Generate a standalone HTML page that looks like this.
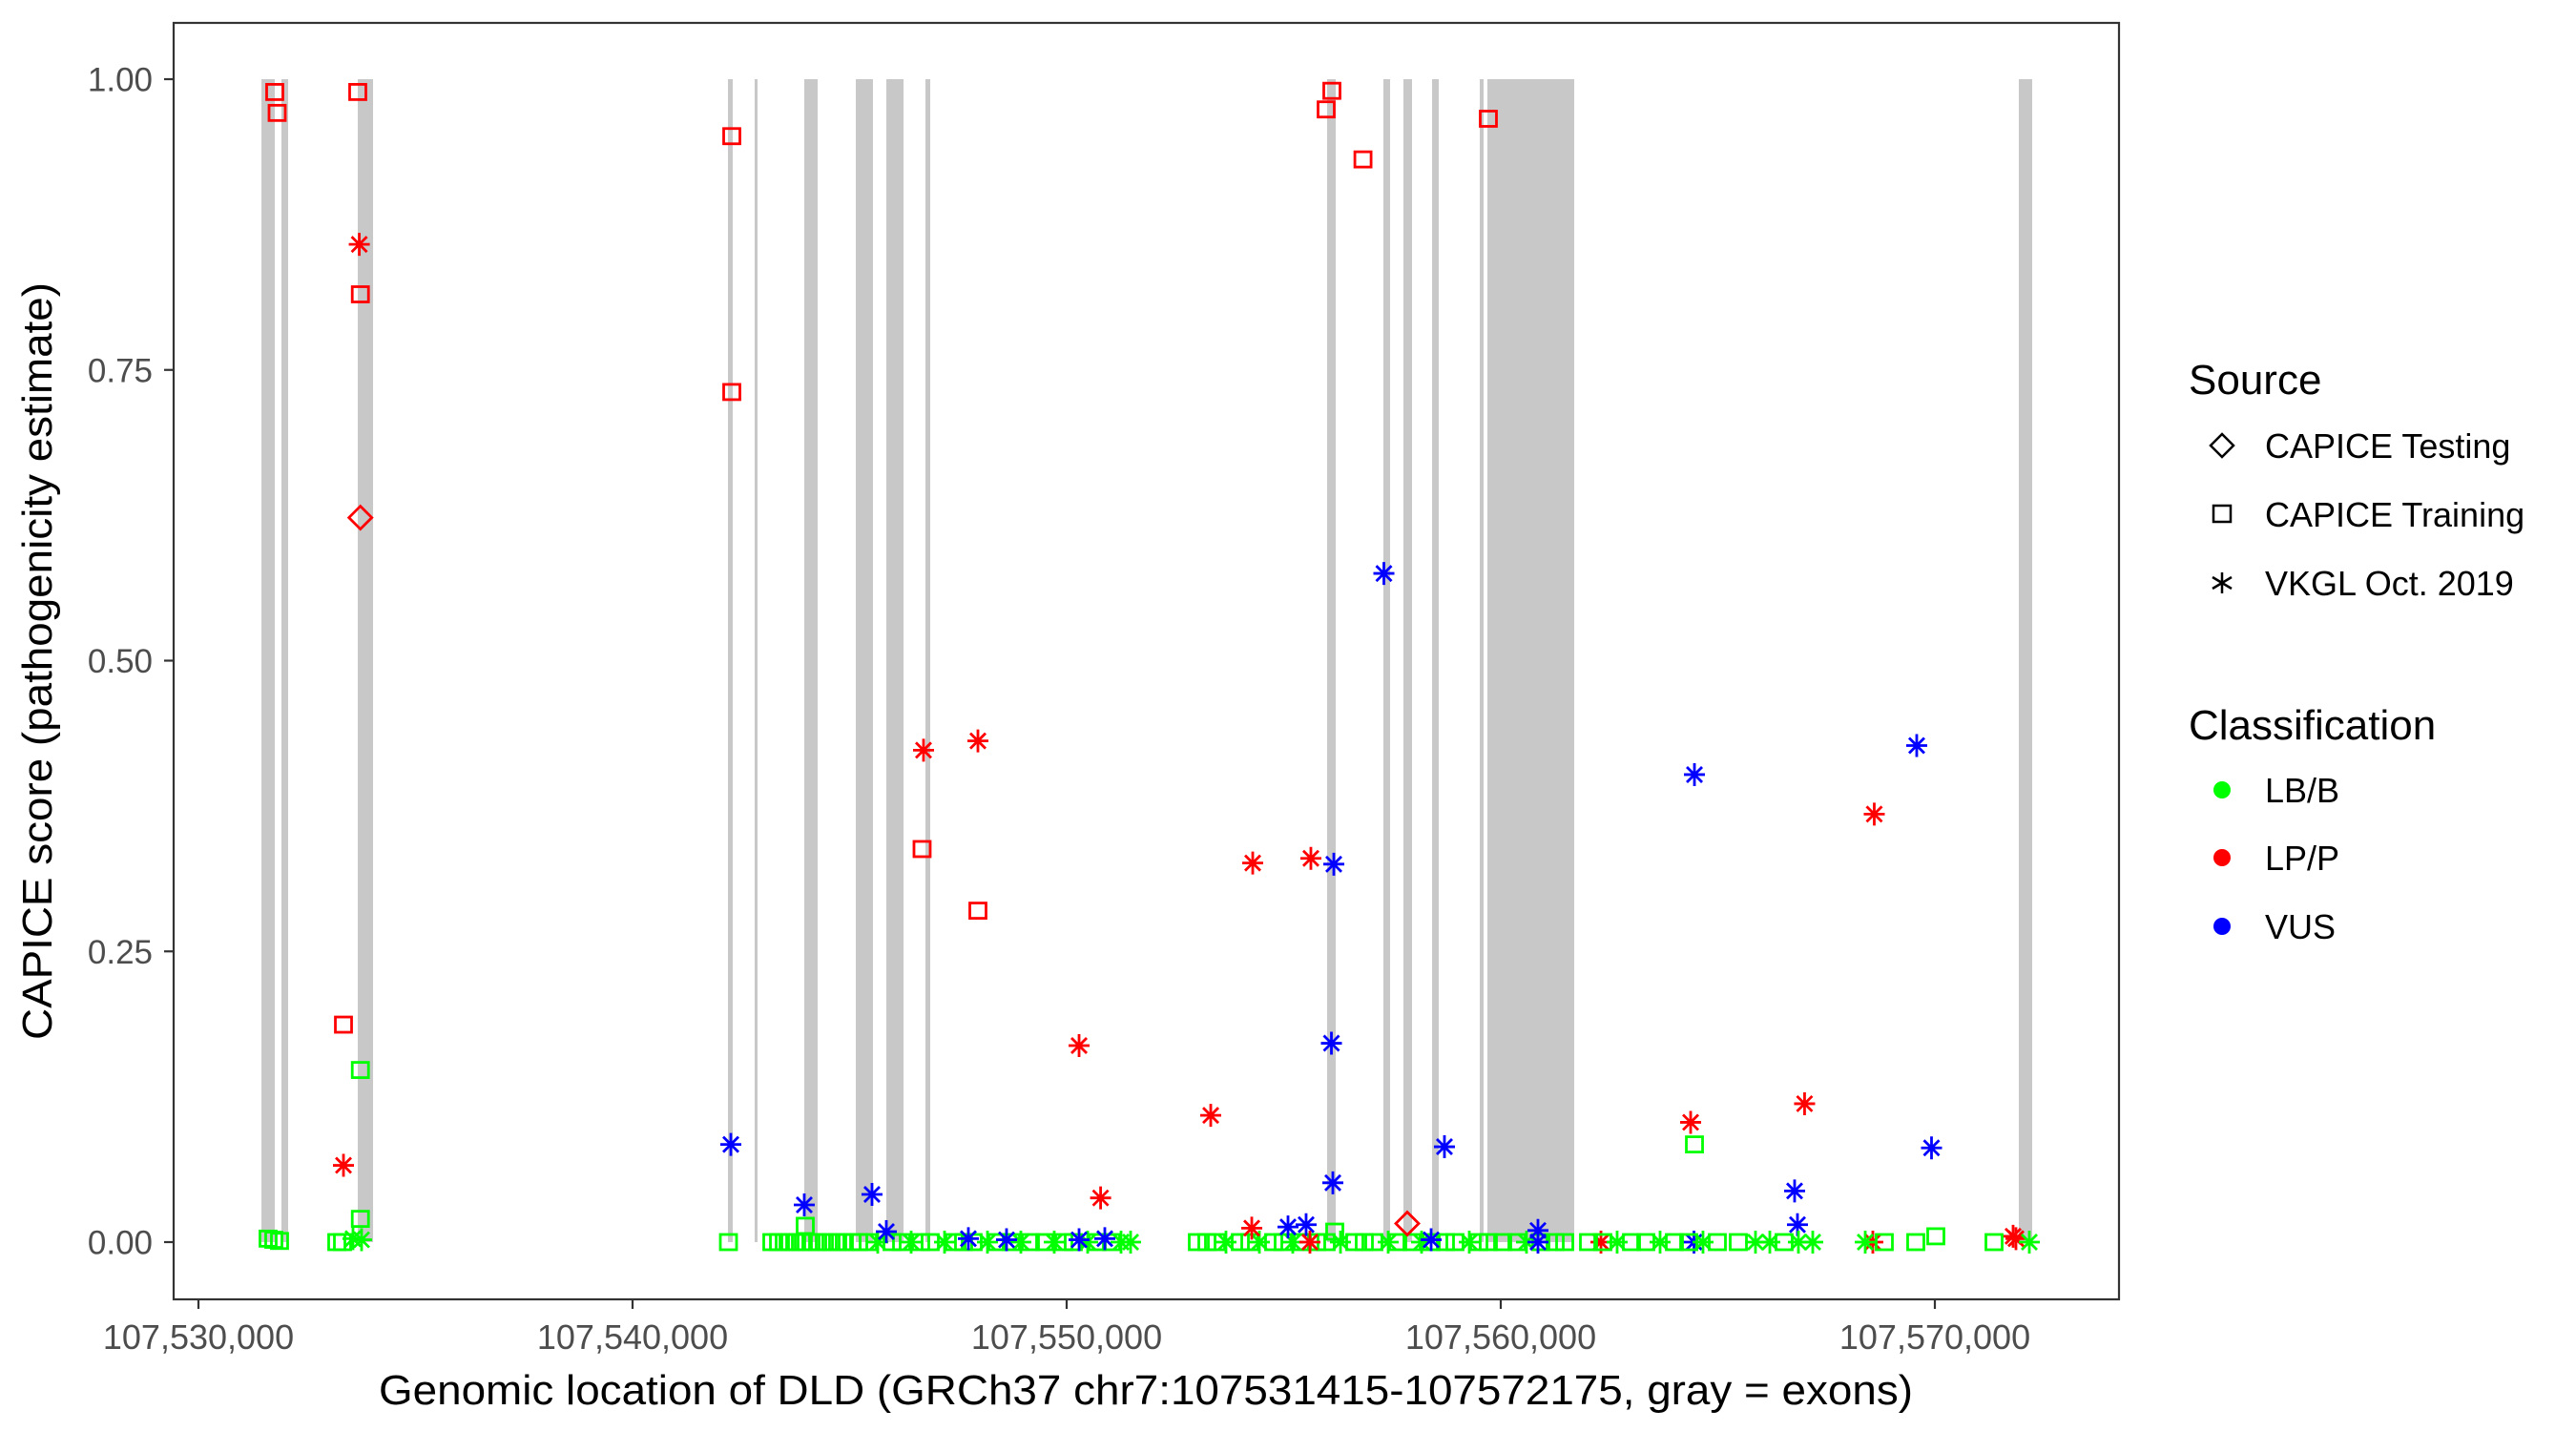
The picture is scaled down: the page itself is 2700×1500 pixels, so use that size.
<!DOCTYPE html>
<html><head><meta charset="utf-8"><style>
html,body{margin:0;padding:0;background:#fff;}
svg{display:block;}
text{font-family:"Liberation Sans",Arial,sans-serif;}
</style></head><body>
<svg id="chart" width="2700" height="1500" viewBox="0 0 2700 1500" xmlns="http://www.w3.org/2000/svg">
<rect x="0" y="0" width="2700" height="1500" fill="#fff"/>
<g id="exons"></g>
<g id="points"></g>
<rect x="182" y="24" width="2039" height="1338" fill="none" stroke="#333" stroke-width="2.2"/>
<g id="yaxis"></g>
<g id="xaxis"></g>
<text x="1201" y="1472" font-size="44" text-anchor="middle" textLength="1608" lengthAdjust="spacingAndGlyphs">Genomic location of DLD (GRCh37 chr7:107531415-107572175, gray = exons)</text>
<text transform="translate(54,693) rotate(-90)" font-size="44" text-anchor="middle" textLength="794" lengthAdjust="spacingAndGlyphs">CAPICE score (pathogenicity estimate)</text>
<g>
<text x="2294" y="413" font-size="44">Source</text>
<g>
<path d="M2329 455 L2341 467 L2329 479 L2317 467 Z" fill="none" stroke="#000" stroke-width="2.5"/>
<text x="2374" y="480" font-size="36">CAPICE Testing</text></g>
<g>
<rect x="2320" y="530" width="18" height="17" fill="none" stroke="#000" stroke-width="2.5"/>
<text x="2374" y="552" font-size="36">CAPICE Training</text></g>
<g>
<path d="M2329 600 V622 M2319 605 L2339 617 M2319 617 L2339 605" stroke="#000" stroke-width="2.5"/>
<text x="2374" y="624" font-size="36">VKGL Oct. 2019</text></g>
<text x="2294" y="775" font-size="44">Classification</text>
<g><circle cx="2329" cy="828" r="9" fill="#00ff00"/><text x="2374" y="841" font-size="36">LB/B</text></g>
<g><circle cx="2329" cy="899" r="9" fill="#ff0000"/><text x="2374" y="912" font-size="36">LP/P</text></g>
<g><circle cx="2329" cy="971" r="9" fill="#0000ff"/><text x="2374" y="984" font-size="36">VUS</text></g>
</g>
</svg>
<script>
// Axis domain/tick data
const xTicks = [107530000, 107540000, 107550000, 107560000, 107570000];
const xTickLabels = ["107,530,000", "107,540,000", "107,550,000", "107,560,000", "107,570,000"];
const yTicks = [0, 0.25, 0.5, 0.75, 1];
const yTickLabels = ["0.00", "0.25", "0.50", "0.75", "1.00"];
// Exons (genomic start/end)
const exonStart = [107531451,107531912,107533670,107542198,107542813,107543956,107545143,107545846,107546747,107556000,107557297,107557758,107558418,107559516,107559692,107571934];
const exonEnd   = [107531758,107532066,107534022,107542308,107542879,107544264,107545538,107546242,107546857,107556198,107557451,107557956,107558571,107559604,107561692,107572242];
// Variants: offset from 107,530,000, score, source (d=testing, s=training, a=VKGL), class (B, P, V)
const varOffset = [
1604,1736,1868,1758,1813,3187,3319,3560,3758,3670,3730,3705,3730,3730,3730,3341,3341,
12209,12286,12286,12264,13956,13978,
13209,13363,13495,13626,13780,13934,14110,14264,14418,14571,14725,14879,15055,15209,
15429,15648,15978,16198,16418,16637,16857,17187,17407,17626,17846,18176,18395,18725,18945,19165,19494,19714,19934,20154,20484,20703,21033,21253,21473,
15846,17736,18615,20286,20879,15516,16703,16670,17956,17956,20286,20782,
23011,23231,23451,23670,24000,24220,24440,24769,24989,25209,25429,25758,25978,26308,26637,26857,27077,27407,27626,27956,28176,28396,28725,28945,29275,29495,29714,30044,30374,30593,30923,31253,31473,
23319,24286,25626,26154,26099,26132,26110,25978,26826,27308,27846,28703,24264,25099,25516,25604,26176,28396,30857,30857,
29714,34462,34462,34374,38604,39582,36999,39923,36769,36835,34451,32308,38571,41802,41868,40022,42176,
32022,32352,32681,33011,33341,33670,34000,34330,34659,34989,35473,35868,36198,36527,36857,37187,38396,38835,39560,41363];
const varScore = [
0.003,0.002,0.001,0.989,0.971,0,0,0.003,0.002,0.989,0.815,0.858,0.623,0.148,0.02,0.187,0.066,
0,0.951,0.731,0.084,0.032,0.014,
0,0,0,0,0,0,0,0,0,0,0,0,0,0,
0,0,0,0,0,0,0,0,0,0,0,0,0,0,0,0,0,0,0,0,0,0,0,0,0,
0.009,0.003,0.002,0.002,0.003,0.041,0.423,0.338,0.431,0.285,0.169,0.038,
0,0,0,0,0,0,0,0,0,0,0,0,0,0,0,0,0,0,0,0,0,0,0,0,0,0,0,0,0,0,0,0,0,
0.109,0.326,0.33,0.325,0.171,0.051,0.99,0.974,0.931,0.575,0.016,0.082,0.012,0.013,0.015,0,0.009,0.002,0.01,0,
0.966,0.402,0.084,0.103,0.368,0.427,0.119,0.081,0.044,0.015,0,0,0,0.005,0.003,0.005,0,
0,0,0,0,0,0,0,0,0,0,0,0,0,0,0,0,0,0,0,0];
const varSource = [
"s","s","s","s","s","s","s","a","a","s","s","a","d","s","s","s","a",
"s","s","s","a","a","s",
"s","s","s","s","s","s","s","s","s","s","s","s","s","s",
"s","a","s","s","a","s","s","a","s","s","s","a","s","s","a","s","s","a","s","s","a","s","s","a","a",
"a","a","a","a","a","a","a","s","a","s","a","a",
"s","s","s","a","s","s","a","s","s","a","s","s","s","a","s","s","s","a","s","s","a","s","s","s","a","s","s","s","s","a","s","s","s",
"a","a","a","a","a","a","s","s","s","a","d","a","a","a","a","a","s","a","a","a",
"s","a","s","a","a","a","a","a","a","a","a","a","a","a","a","s","a",
"s","s","a","s","s","a","s","s","a","s","s","a","a","s","a","a","a","s","s","s"];
const varClass = [
"B","B","B","P","P","B","B","B","B","P","P","P","P","B","B","P","P",
"B","P","P","V","V","B",
"B","B","B","B","B","B","B","B","B","B","B","B","B","B",
"B","B","B","B","B","B","B","B","B","B","B","B","B","B","B","B","B","B","B","B","B","B","B","B","B",
"V","V","V","V","V","V","P","P","P","P","P","P",
"B","B","B","B","B","B","B","B","B","B","B","B","B","B","B","B","B","B","B","B","B","B","B","B","B","B","B","B","B","B","B","B","B",
"P","P","P","V","V","V","P","P","P","V","P","V","P","V","V","P","B","V","V","V",
"P","V","B","P","P","V","P","V","V","V","V","P","P","P","P","B","B",
"B","B","B","B","B","B","B","B","B","B","B","B","B","B","B","B","B","B","B","B"];
const XMIN = 107530000;
const NS = 'http://www.w3.org/2000/svg';
function xScale(v){ return 208 + (v - XMIN) * 0.0455; }
function yScale(s){ return 1302 - s * 1219; }
const colors = {B:'#00ff00', P:'#ff0000', V:'#0000ff'};
function mk(tag, attrs, parent){ const e=document.createElementNS(NS,tag); for(const k in attrs) e.setAttribute(k,attrs[k]); parent.appendChild(e); return e; }
const gEx = document.getElementById('exons');
for(let i=0;i<exonStart.length;i++){
  const x0=xScale(exonStart[i]), x1=xScale(exonEnd[i]);
  const r = mk('rect',{x:x0,y:yScale(1),width:Math.max(x1-x0,2),height:yScale(0)-yScale(1),fill:'#c8c8c8'},gEx);
  
  
}
const gP = document.getElementById('points');
for(let i=0;i<varOffset.length;i++){
  const cx = xScale(XMIN + varOffset[i]), cy = yScale(varScore[i]);
  const c = colors[varClass[i]];
  let el;
  if(varSource[i]==='s'){
    el = mk('rect',{x:cx-8.5,y:cy-8,width:17,height:16,fill:'none',stroke:c,'stroke-width':2.8},gP);
  } else if(varSource[i]==='d'){
    el = mk('path',{d:`M${cx} ${cy-12} L${cx+12} ${cy} L${cx} ${cy+12} L${cx-12} ${cy} Z`,fill:'none',stroke:c,'stroke-width':2.8},gP);
  } else {
    el = mk('path',{d:`M${cx-11} ${cy} H${cx+11} M${cx} ${cy-12} V${cy+12} M${cx-8} ${cy-8} L${cx+8} ${cy+8} M${cx-8} ${cy+8} L${cx+8} ${cy-8}`,fill:'none',stroke:c,'stroke-width':2.8},gP);
  }
  
  
}
const gY = document.getElementById('yaxis');
for(let i=0;i<yTicks.length;i++){
  const y=yScale(yTicks[i]);
  const t = mk('line',{x1:172,x2:182,y1:y,y2:y,stroke:'#333','stroke-width':2.2},gY);
  
  
  const l = mk('text',{x:160,y:y+12.5,'font-size':35,'text-anchor':'end',fill:'#4d4d4d'},gY);
  l.textContent = yTickLabels[i];
  
  
}
const gX = document.getElementById('xaxis');
for(let i=0;i<xTicks.length;i++){
  const x=xScale(xTicks[i]);
  const t = mk('line',{x1:x,x2:x,y1:1362,y2:1372,stroke:'#333','stroke-width':2.2},gX);
  
  
  const l = mk('text',{x:x,y:1414,'font-size':36,'text-anchor':'middle',fill:'#4d4d4d'},gX);
  l.textContent = xTickLabels[i];
  
  
}
</script>
</body></html>
